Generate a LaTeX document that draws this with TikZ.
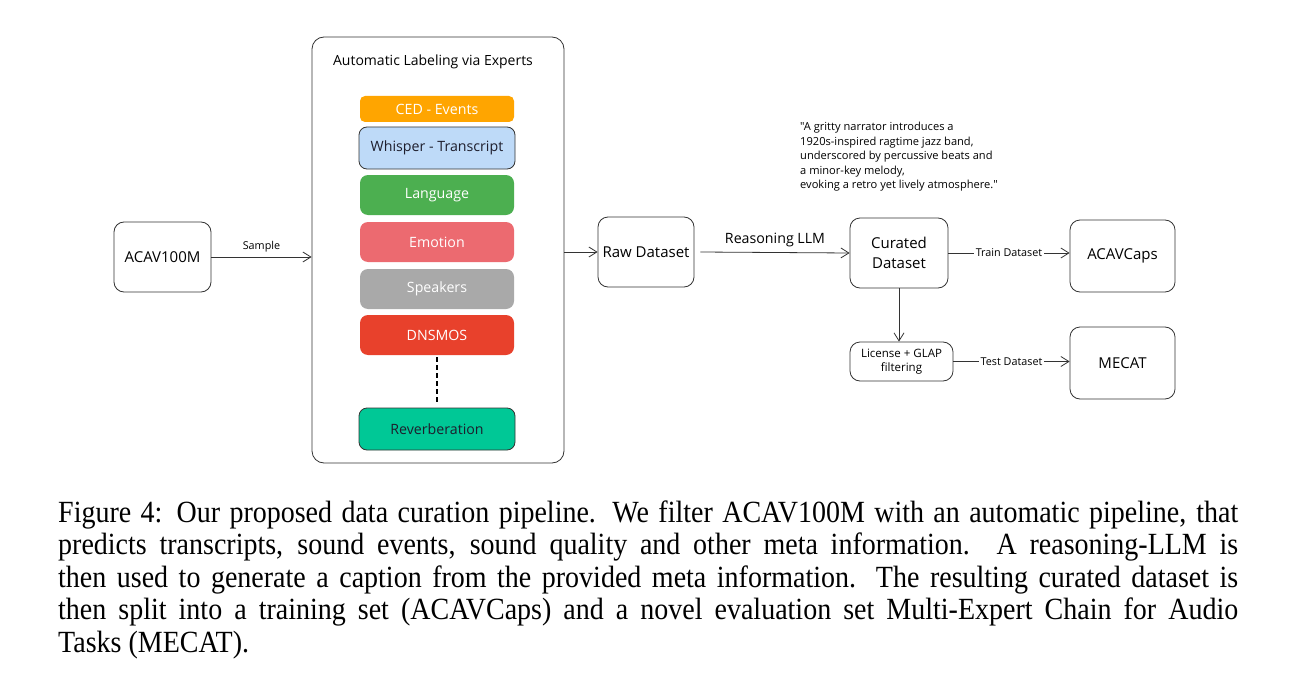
\documentclass[tikz,border=0pt]{standalone}
\usepackage{fontspec}
\usepackage{graphicx}
\setmainfont{Liberation Serif}
\newfontfamily\diafont{Open Sans}
\usetikzlibrary{arrows.meta}
\definecolor{cedc}{RGB}{255,165,0}
\definecolor{whic}{RGB}{190,218,248}
\definecolor{lanc}{RGB}{76,175,80}
\definecolor{emoc}{RGB}{236,106,112}
\definecolor{spkc}{RGB}{169,169,169}
\definecolor{dnsc}{RGB}{232,65,44}
\definecolor{revc}{RGB}{0,200,150}
\definecolor{edgec}{RGB}{51,51,51}
\definecolor{darktxt}{RGB}{30,30,45}
\tikzset{
  box/.style={draw=edgec, line width=0.8pt, rounded corners=10pt, inner sep=0pt, align=center, font=\diafont\fontsize{15}{20}\selectfont, text=black},
  expert/.style={rounded corners=8pt, inner sep=0pt, minimum width=154pt, minimum height=40pt, font=\diafont\fontsize{14.2}{17}\selectfont, text=white},
  expertb/.style={expert, draw=edgec, line width=0.8pt, text=darktxt, minimum width=156pt, minimum height=42pt},
  conn/.style={draw=edgec, line width=0.8pt, -{Straight Barb[length=8pt,width=10pt]}},
  lab/.style={font=\diafont\fontsize{10.8}{12}\selectfont, text=black, inner sep=1.5pt},
}
\begin{document}
\begin{tikzpicture}[x=1pt,y=-1pt]
\useasboundingbox[fill=white] (0,0) rectangle (1295,690);
% nodes
\node[box, minimum width=97pt, minimum height=70pt] (acav) at (162.5,257) {ACAV100M};
\node[box, rounded corners=12pt, minimum width=252pt, minimum height=426pt] (big) at (438,250) {};
\node[font=\diafont\fontsize{14}{16}\selectfont, text=black] (title) at (433,62) {Automatic Labeling via Experts};
\node[expert, fill=cedc, minimum height=26pt, rounded corners=5pt] (ced) at (437,109) {CED - Events};
\node[expertb, fill=whic] (whi) at (437,148) {Whisper - Transcript};
\node[expert, fill=lanc] (lan) at (437,195) {Language};
\node[expert, fill=emoc] (emo) at (437,242) {Emotion};
\node[expert, fill=spkc] (spk) at (437,289) {Speakers};
\node[expert, fill=dnsc] (dns) at (437,335) {DNSMOS};
\node[expertb, fill=revc] (rev) at (437,429) {Reverberation};
\node[box, minimum width=96pt, minimum height=70pt] (raw) at (646,252) {Raw Dataset};
\node[box, minimum width=98pt, minimum height=70pt] (cur) at (899,253) {Curated\\Dataset};
\node[box, minimum width=105pt, minimum height=72pt] (acaps) at (1122.5,256) {ACAVCaps};
\node[box, minimum width=103pt, minimum height=39pt, font=\diafont\fontsize{11.5}{14}\selectfont] (lic) at (901.5,361.5) {License + GLAP\\filtering};
\node[box, minimum width=105pt, minimum height=72pt] (mecat) at (1122.5,363) {MECAT};
\node[anchor=north west, align=left, inner sep=0pt, text=black, font=\diafont\fontsize{11.1}{14.5}\selectfont] (quote) at (800,122)
 {"A gritty narrator introduces a\\1920s-inspired ragtime jazz band,\\underscored by percussive beats and\\a minor-key melody,\\evoking a retro yet lively atmosphere."};
% connectors
\draw[conn] (acav.east) -- (acav.east -| big.west) node[lab, midway, above=3pt] (lsample) {Sample};
\draw[conn] (raw.west -| big.east) -- (raw.west);
\draw[conn] ([xshift=6pt]raw.east) -- (cur.west) node[lab, midway, above=4pt, font=\diafont\fontsize{14.2}{16}\selectfont] (lreason) {Reasoning LLM};
\draw[conn] (cur.east) -- (cur.east -| acaps.west) node[lab, midway, fill=white] (ltrain) {Train Dataset};
\draw[conn] (cur.south) -- (cur.south |- lic.north);
\draw[conn] (lic.east) -- (lic.east -| mecat.west) node[lab, midway, fill=white] (ltest) {Test Dataset};
\draw[draw=black, line width=1.4pt, dash pattern=on 5pt off 3pt] ([yshift=-2pt]dns.south) -- ([yshift=4pt]rev.north);
% caption
\node[anchor=base west, inner sep=0pt] (cap) at (58,522)
 {\scalebox{1}[1.1]{\parbox[t]{1180pt}{\fontsize{28}{29.6}\selectfont Figure 4: Our proposed data curation pipeline. We filter ACAV100M with an automatic pipeline, that\linebreak predicts transcripts, sound events, sound quality and other meta information. A reasoning-LLM is\linebreak then used to generate a caption from the provided meta information. The resulting curated dataset is\linebreak then split into a training set (ACAVCaps) and a novel evaluation set Multi-Expert Chain for Audio\linebreak Tasks (MECAT).}}};
\end{tikzpicture}
\end{document}
